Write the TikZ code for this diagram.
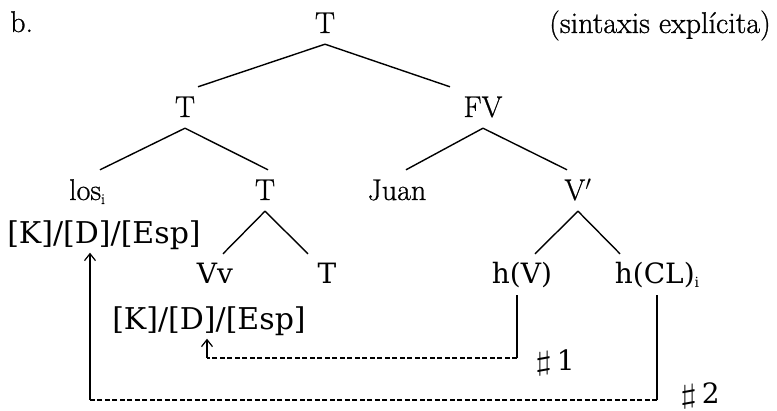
\documentclass[tikz,border=0pt]{standalone}
\usepackage{fontspec}
\usepackage{graphicx}
\newfontfamily\wfont{DejaVu Serif}
\newfontfamily\lmfont{Latin Modern Roman}[FakeBold=0.8]
\usetikzlibrary{arrows.meta,calc}
\begin{document}
\begin{tikzpicture}[x=1pt,y=-1pt,
  lab/.style={anchor=base, inner xsep=0pt, inner ysep=4pt, text height=26pt, text depth=7pt, font=\fontsize{30}{36}\selectfont\lmfont},
  wlab/.style={lab, font=\fontsize{28}{34}\selectfont\wfont},
  kbox/.style={wlab, inner ysep=1.5pt, font=\fontsize{30}{36}\selectfont\wfont},
  branch/.style={line width=1.4pt},
  link/.style={line width=1.2pt},
  dlink/.style={line width=1.1pt, dash pattern=on 5pt off 2.5pt},
  tip/.style={-{Straight Barb[length=7pt,width=11pt]}, line width=1.2pt}]
\useasboundingbox (0,0) rectangle (777,411);
\node[lab, anchor=base west] (b) at (10,32) {b.};
\node[lab] (root) at (325,33) {T};
\node[lab] (sint) at (660,33) {(sintaxis explícita)};
\node[lab] (T2) at (185,117) {T};
\node[lab] (FV) at (483,117) {FV};
\node[lab] (los) at (87,200) {los\raisebox{-4pt}{\fontsize{15}{15}\selectfont i}};
\node[lab] (T3) at (265,200) {T};
\node[lab] (juan) at (397,200) {Juan};
\node[lab] (Vb) at (578,200) {V$'$};
\node[kbox] (K1) at (104,244) {[K]/[D]/[Esp]};
\node[wlab] (Vv) at (215,284) {Vv};
\node[wlab] (T4) at (327,284) {T};
\node[wlab] (hV) at (522,284) {h(V)};
\node[wlab] (hCL) at (657,284) {h(CL)\raisebox{-4pt}{\fontsize{14}{14}\selectfont i}};
\node[kbox] (K2) at (209,330) {[K]/[D]/[Esp]};
\node[wlab] (n1) at (555,371) {\scalebox{1.8}[1.1]{$\sharp$}\,1};
\node[wlab] (n2) at (700,404) {\scalebox{1.8}[1.1]{$\sharp$}\,2};
\coordinate (c1) at (517,358);
\coordinate (c2) at (657,400);
\coordinate (c3) at (90,400);
\coordinate (c4) at (207,358);
\draw[branch] (root.south) -- ([xshift=13pt]T2.north);
\draw[branch] (root.south) -- ([xshift=-33pt]FV.north);
\draw[branch] (T2.south) -- ([xshift=13pt]los.north);
\draw[branch] (T2.south) -- ([xshift=3pt]T3.north);
\draw[branch] (FV.south) -- ([xshift=9pt]juan.north);
\draw[branch] (FV.south) -- ([xshift=-11pt]Vb.north);
\draw[branch] (T3.south) -- ([xshift=8pt]Vv.north);
\draw[branch] (T3.south) -- ([xshift=-19pt]T4.north);
\draw[branch] (Vb.south) -- ([xshift=13pt]hV.north);
\draw[branch] (Vb.south) -- ([xshift=-37pt]hCL.north);
\draw[link] (hV.south -| c1) -- (c1);
\draw[dlink] (c1) -- (c4);
\draw[tip] (c4) -- (c4 |- K2.south);
\draw[link] (hCL.south) -- (c2);
\draw[dlink] (c2) -- (c3);
\draw[tip] (c3) -- (c3 |- K1.south);
\end{tikzpicture}
\end{document}
